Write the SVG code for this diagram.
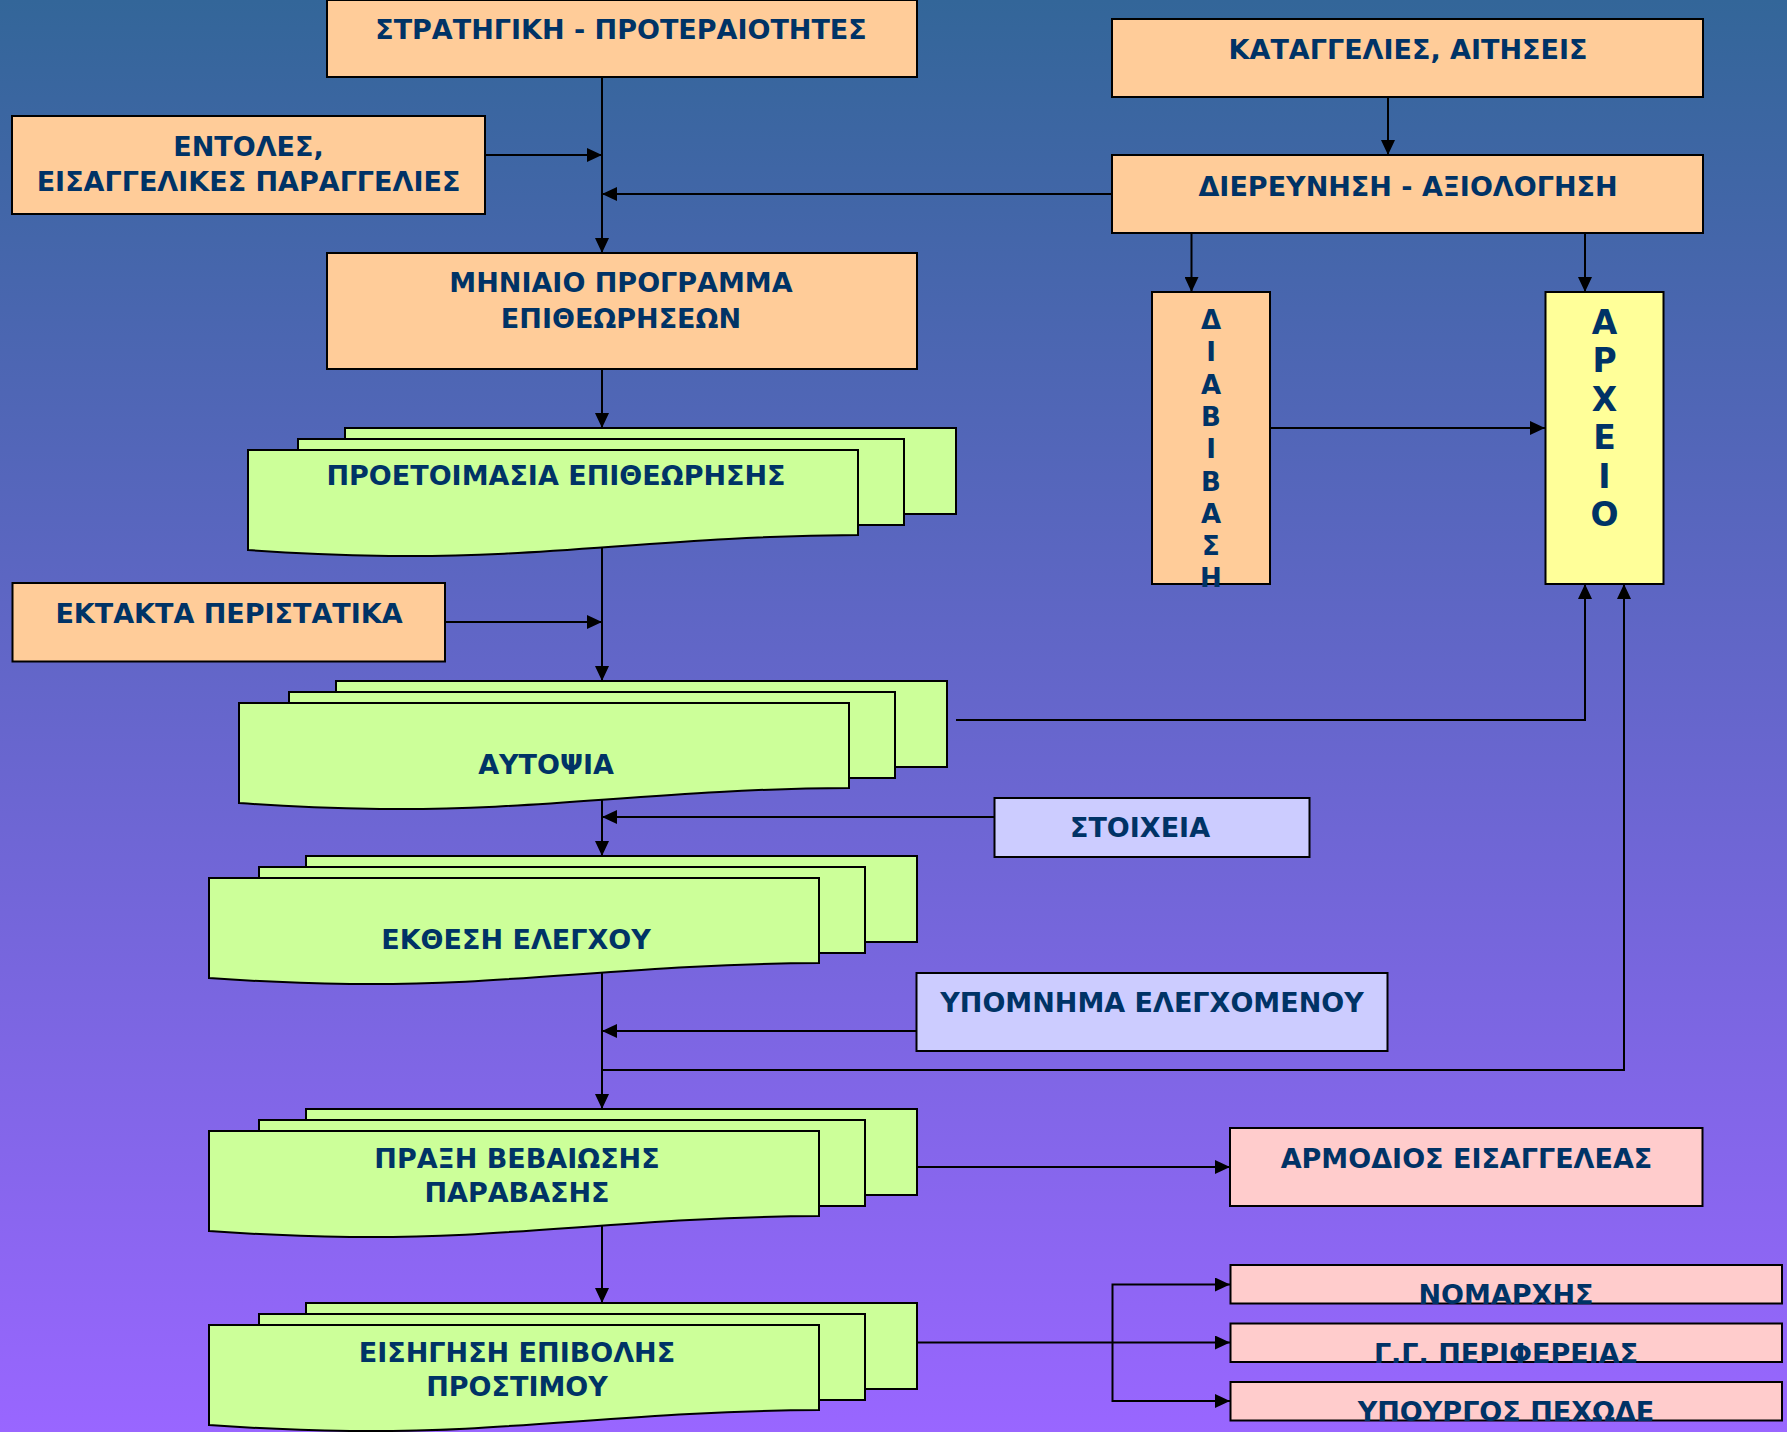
<svg xmlns="http://www.w3.org/2000/svg" xmlns:xlink="http://www.w3.org/1999/xlink" width="1787" height="1432" viewBox="0 0 1787 1432">
<defs>
<linearGradient id="bg" x1="0" y1="0" x2="0" y2="1">
<stop offset="0" stop-color="#336699"/>
<stop offset="1" stop-color="#9966FF"/>
</linearGradient>
<marker id="ah" markerUnits="userSpaceOnUse" markerWidth="15" markerHeight="14" refX="15" refY="7" orient="auto" viewBox="0 0 15 14">
<path d="M0,0 L15,7 L0,14 Z" fill="#000"/>
</marker>
<g id="md" fill="#CCFF99" stroke="#000" stroke-width="2">
<rect x="97" y="-22" width="611" height="86"/>
<rect x="50" y="-11" width="606" height="86"/>
<path d="M0,0 H610 V85 C420,86 300,108 141,106 C80,105 40,103 0,100 Z"/>
</g>
</defs>
<style>
.box{stroke:#000;stroke-width:2}
.o{fill:#FFCC99}
.y{fill:#FFFF99}
.l{fill:#CCCCFF}
.p{fill:#FFCCCC}
text{font-family:"DejaVu Sans",Verdana,sans-serif;font-weight:bold;font-size:27px;fill:#003366;text-anchor:middle}
.conn path{fill:none;stroke:#000;stroke-width:2}
.arr{marker-end:url(#ah)}
</style>
<rect x="0" y="0" width="1787" height="1432" fill="url(#bg)"/>

<g id="connectors" class="conn">
<path class="arr" d="M602,77 V253"/>
<path class="arr" d="M485,155 H602"/>
<path class="arr" d="M1112,194 H602"/>
<path class="arr" d="M1388,97 V155"/>
<path class="arr" d="M1191.5,233 V292"/>
<path class="arr" d="M1585,233 V292"/>
<path class="arr" d="M602,369 V428"/>
<path class="arr" d="M602,544 V681"/>
<path class="arr" d="M445,622 H602"/>
<path class="arr" d="M1270,428 H1545"/>
<path class="arr" d="M956,720 H1585 V584"/>
<path class="arr" d="M602,797 V856"/>
<path class="arr" d="M994,817 H602"/>
<path class="arr" d="M602,972 V1109"/>
<path class="arr" d="M916,1031 H602"/>
<path class="arr" d="M602,1070 H1624 V584"/>
<path class="arr" d="M917,1167 H1230"/>
<path class="arr" d="M602,1225 V1303"/>
<path class="arr" d="M917,1342.5 H1230"/>
<path class="arr" d="M1112.5,1342.5 V1284.5 H1230"/>
<path class="arr" d="M1112.5,1342.5 V1401 H1230"/>
</g>

<g id="strategiki">
<rect class="box o" x="327" y="0" width="590" height="77"/>
<text x="621" y="39">ΣΤΡΑΤΗΓΙΚΗ - ΠΡΟΤΕΡΑΙΟΤΗΤΕΣ</text>
</g>
<g id="entoles">
<rect class="box o" x="12" y="116" width="473" height="98"/>
<text x="248.5" y="156">ΕΝΤΟΛΕΣ,</text>
<text x="248.5" y="191">ΕΙΣΑΓΓΕΛΙΚΕΣ ΠΑΡΑΓΓΕΛΙΕΣ</text>
</g>
<g id="katagelies">
<rect class="box o" x="1112" y="19" width="591" height="78"/>
<text x="1408" y="59">ΚΑΤΑΓΓΕΛΙΕΣ, ΑΙΤΗΣΕΙΣ</text>
</g>
<g id="diereynisi">
<rect class="box o" x="1112" y="155" width="591" height="78"/>
<text x="1408" y="196">ΔΙΕΡΕΥΝΗΣΗ - ΑΞΙΟΛΟΓΗΣΗ</text>
</g>
<g id="miniaio">
<rect class="box o" x="327" y="253" width="590" height="116"/>
<text x="621" y="292">ΜΗΝΙΑΙΟ ΠΡΟΓΡΑΜΜΑ</text>
<text x="621" y="328">ΕΠΙΘΕΩΡΗΣΕΩΝ</text>
</g>
<g id="diavivasi">
<rect class="box o" x="1152" y="292" width="118" height="292"/>
<text style="font-size:26px"><tspan x="1211" y="329">Δ</tspan><tspan x="1211" y="361.3">Ι</tspan><tspan x="1211" y="393.6">Α</tspan><tspan x="1211" y="425.9">Β</tspan><tspan x="1211" y="458.2">Ι</tspan><tspan x="1211" y="490.5">Β</tspan><tspan x="1211" y="522.8">Α</tspan><tspan x="1211" y="555.1">Σ</tspan><tspan x="1211" y="587.4">Η</tspan></text>
</g>
<g id="arxeio">
<rect class="box y" x="1545.5" y="292" width="118" height="292"/>
<text style="font-size:33px"><tspan x="1604.5" y="334">Α</tspan><tspan x="1604.5" y="372.4">Ρ</tspan><tspan x="1604.5" y="410.8">Χ</tspan><tspan x="1604.5" y="449.2">Ε</tspan><tspan x="1604.5" y="487.6">Ι</tspan><tspan x="1604.5" y="526">Ο</tspan></text>
</g>
<g id="proetoimasia">
<use xlink:href="#md" href="#md" transform="translate(248,450)"/>
<text x="556" y="485">ΠΡΟΕΤΟΙΜΑΣΙΑ ΕΠΙΘΕΩΡΗΣΗΣ</text>
</g>
<g id="ektakta">
<rect class="box o" x="12.5" y="583" width="432.5" height="78.5"/>
<text x="229" y="623">ΕΚΤΑΚΤΑ ΠΕΡΙΣΤΑΤΙΚΑ</text>
</g>
<g id="aytopsia">
<use xlink:href="#md" href="#md" transform="translate(239,703)"/>
<text x="546" y="774">ΑΥΤΟΨΙΑ</text>
</g>
<g id="stoixeia">
<rect class="box l" x="994.5" y="798" width="315" height="59"/>
<text x="1140" y="837">ΣΤΟΙΧΕΙΑ</text>
</g>
<g id="ekthesi">
<use xlink:href="#md" href="#md" transform="translate(209,878)"/>
<text x="516" y="949">ΕΚΘΕΣΗ ΕΛΕΓΧΟΥ</text>
</g>
<g id="ypomnima">
<rect class="box l" x="916.5" y="973" width="471" height="78"/>
<text x="1152" y="1012">ΥΠΟΜΝΗΜΑ ΕΛΕΓΧΟΜΕΝΟΥ</text>
</g>
<g id="praxi">
<use xlink:href="#md" href="#md" transform="translate(209,1131)"/>
<text x="517" y="1168">ΠΡΑΞΗ ΒΕΒΑΙΩΣΗΣ</text>
<text x="517" y="1202">ΠΑΡΑΒΑΣΗΣ</text>
</g>
<g id="armodios">
<rect class="box p" x="1230" y="1128" width="472.5" height="78"/>
<text x="1466.5" y="1168">ΑΡΜΟΔΙΟΣ ΕΙΣΑΓΓΕΛΕΑΣ</text>
</g>
<g id="eisigisi">
<use xlink:href="#md" href="#md" transform="translate(209,1325)"/>
<text x="517" y="1362">ΕΙΣΗΓΗΣΗ ΕΠΙΒΟΛΗΣ</text>
<text x="517" y="1396">ΠΡΟΣΤΙΜΟΥ</text>
</g>
<g id="nomarxis">
<rect class="box p" x="1230.5" y="1265" width="551.5" height="38.5"/>
<text x="1506" y="1304">ΝΟΜΑΡΧΗΣ</text>
</g>
<g id="gg-perifereias">
<rect class="box p" x="1230.5" y="1323.5" width="551.5" height="38.5"/>
<text x="1506" y="1362.5">Γ.Γ. ΠΕΡΙΦΕΡΕΙΑΣ</text>
</g>
<g id="ypourgos">
<rect class="box p" x="1230.5" y="1382" width="551.5" height="38.5"/>
<text x="1506" y="1421">ΥΠΟΥΡΓΟΣ ΠΕΧΩΔΕ</text>
</g>
</svg>
